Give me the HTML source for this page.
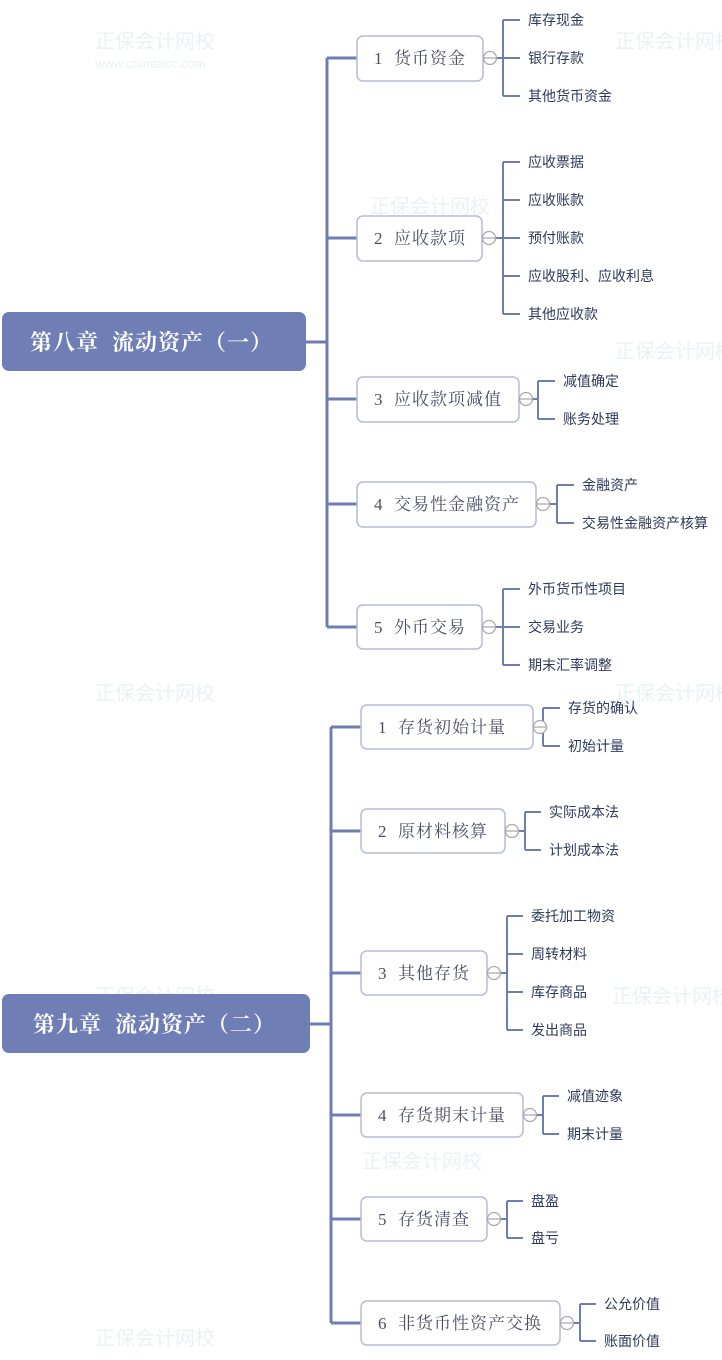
<!DOCTYPE html>
<html><head><meta charset="utf-8"><style>
body{margin:0;background:#fff;width:722px;height:1360px;overflow:hidden}
svg{display:block}
text{white-space:pre}
.c{font-family:"Liberation Sans","Noto Sans CJK SC",sans-serif;font-size:14px;fill:#2f3a5a}
.b{font-family:"Liberation Serif","Noto Serif CJK SC",serif;font-size:17px;fill:#4a4f66;letter-spacing:1px}
.r{font-family:"Liberation Serif","Noto Serif CJK SC",serif;font-size:22px;font-weight:bold;fill:#fff;letter-spacing:1px}
.w{font-family:"Liberation Sans","Noto Sans CJK SC",sans-serif;fill:#eaf2f4}
</style></head><body>
<svg width="722" height="1360" xmlns="http://www.w3.org/2000/svg">
<g class="w">
<text x="95" y="48" font-size="20">正保会计网校</text><text x="95" y="68" font-size="13">www.chinaacc.com</text>
<text x="615" y="48" font-size="20">正保会计网校</text>
<text x="370" y="213" font-size="20">正保会计网校</text>
<text x="615" y="358" font-size="20">正保会计网校</text>
<text x="365" y="523" font-size="20">正保会计网校</text>
<text x="95" y="700" font-size="20">正保会计网校</text>
<text x="615" y="700" font-size="20">正保会计网校</text>
<text x="95" y="1003" font-size="20">正保会计网校</text>
<text x="612" y="1003" font-size="20">正保会计网校</text>
<text x="362" y="1168" font-size="20">正保会计网校</text>
<text x="95" y="1345" font-size="20">正保会计网校</text>
</g>
<g stroke="#6e7db3" stroke-width="3" fill="none">
<path d="M306 342H327M327 58V627M327 58H357M327 238H357M327 399H357M327 504H357M327 627H357"/>
<path d="M310 1024H331M331 727V1323M331 727H361M331 831H361M331 973H361M331 1115H361M331 1219H361M331 1323H361"/>
</g>
<g fill="#6f7fb5">
<rect x="2" y="312" width="304" height="59" rx="7"/>
<rect x="2" y="994" width="308" height="59" rx="7"/>
</g>
<text class="r" x="30" y="350">第八章  流动资产（一）</text>
<text class="r" x="33" y="1032">第九章  流动资产（二）</text>
<g fill="#fff" stroke="#b3bbd9" stroke-width="1.5">
<rect x="357" y="36" width="126" height="45" rx="6"/>
<rect x="357" y="216" width="125" height="45" rx="6"/>
<rect x="357" y="377" width="162" height="45" rx="6"/>
<rect x="357" y="482" width="179" height="45" rx="6"/>
<rect x="357" y="605" width="125" height="44" rx="6"/>
<rect x="361" y="705" width="172" height="44" rx="6"/>
<rect x="361" y="809" width="144" height="44" rx="6"/>
<rect x="361" y="951" width="126" height="44" rx="6"/>
<rect x="361" y="1093" width="162" height="44" rx="6"/>
<rect x="361" y="1197" width="126" height="44" rx="6"/>
<rect x="361" y="1301" width="199" height="44" rx="6"/>
</g>
<g class="b">
<text x="374" y="64">1  货币资金</text>
<text x="374" y="244">2  应收款项</text>
<text x="374" y="405">3  应收款项减值</text>
<text x="374" y="510">4  交易性金融资产</text>
<text x="374" y="633">5  外币交易</text>
<text x="378" y="733">1  存货初始计量</text>
<text x="378" y="837">2  原材料核算</text>
<text x="378" y="979">3  其他存货</text>
<text x="378" y="1121">4  存货期末计量</text>
<text x="378" y="1225">5  存货清查</text>
<text x="378" y="1329">6  非货币性资产交换</text>
</g>
<g stroke="#6e7db3" stroke-width="2" fill="none">
<path d="M497 58H503M503 20V96M503 20H520M503 58H520M503 96H520"/>
<path d="M496 238H503M503 162V314M503 162H520M503 200H520M503 238H520M503 276H520M503 314H520"/>
<path d="M533 399H538M538 381V419M538 381H555M538 419H555"/>
<path d="M550 504H557M557 485V523M557 485H574M557 523H574"/>
<path d="M496 627H503M503 589V665M503 589H520M503 627H520M503 665H520"/>
<path d="M547 727H543M543 708V746M543 708H560M543 746H560"/>
<path d="M519 831H525M525 812V850M525 812H541M525 850H541"/>
<path d="M501 973H507M507 916V1030M507 916H523M507 954H523M507 992H523M507 1030H523"/>
<path d="M537 1115H543M543 1096V1134M543 1096H559M543 1134H559"/>
<path d="M501 1219H507M507 1201V1238M507 1201H523M507 1238H523"/>
<path d="M574 1323H580M580 1304V1341M580 1304H596M580 1341H596"/>
</g>
<g fill="#fff" stroke="#aaa" stroke-width="1.3">
<circle cx="490" cy="58" r="6.5"/><circle cx="489" cy="238" r="6.5"/><circle cx="526" cy="399" r="6.5"/>
<circle cx="543" cy="504" r="6.5"/><circle cx="489" cy="627" r="6.5"/><circle cx="540" cy="727" r="6.5"/>
<circle cx="512" cy="831" r="6.5"/><circle cx="494" cy="973" r="6.5"/><circle cx="530" cy="1115" r="6.5"/>
<circle cx="494" cy="1219" r="6.5"/><circle cx="567" cy="1323" r="6.5"/>
</g>
<g stroke="#aaa" stroke-width="1.3">
<path d="M484 58H497M483 238H496M520 399H533M537 504H550M483 627H496M534 727H547M506 831H519M488 973H501M524 1115H537M488 1219H501M561 1323H574"/>
</g>
<g class="c">
<text x="528" y="25">库存现金</text><text x="528" y="63">银行存款</text><text x="528" y="101">其他货币资金</text>
<text x="528" y="167">应收票据</text><text x="528" y="205">应收账款</text><text x="528" y="243">预付账款</text><text x="528" y="281">应收股利、应收利息</text><text x="528" y="319">其他应收款</text>
<text x="563" y="386">减值确定</text><text x="563" y="424">账务处理</text>
<text x="582" y="490">金融资产</text><text x="582" y="528">交易性金融资产核算</text>
<text x="528" y="594">外币货币性项目</text><text x="528" y="632">交易业务</text><text x="528" y="670">期末汇率调整</text>
<text x="568" y="713">存货的确认</text><text x="568" y="751">初始计量</text>
<text x="549" y="817">实际成本法</text><text x="549" y="855">计划成本法</text>
<text x="531" y="921">委托加工物资</text><text x="531" y="959">周转材料</text><text x="531" y="997">库存商品</text><text x="531" y="1035">发出商品</text>
<text x="567" y="1101">减值迹象</text><text x="567" y="1139">期末计量</text>
<text x="531" y="1206">盘盈</text><text x="531" y="1243">盘亏</text>
<text x="604" y="1309">公允价值</text><text x="604" y="1346">账面价值</text>
</g>
</svg>
</body></html>
